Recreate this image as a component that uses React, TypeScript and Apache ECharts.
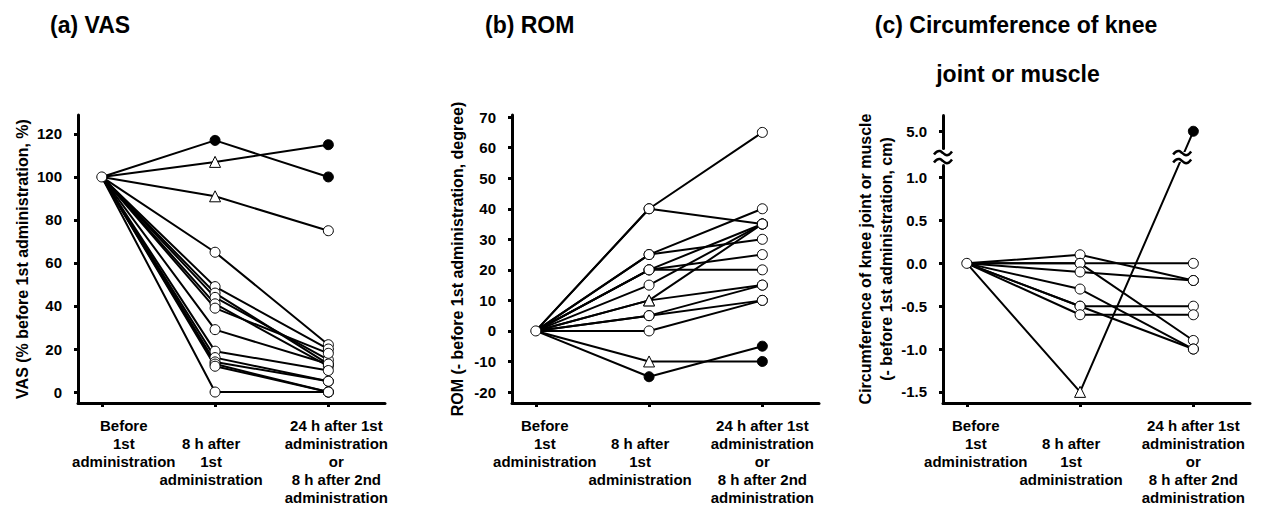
import React, { useEffect, useRef } from 'react';
import * as echarts from 'echarts';

const FONT = '"Liberation Sans", Arial, Helvetica, sans-serif';

// time points (x positions) and their labels
const timePoints = [0, 1, 2];
const timeLabels = [
  'Before\n1st\nadministration',
  '8 h after\n1st\nadministration',
  '24 h after 1st\nadministration\nor\n8 h after 2nd\nadministration',
];
const timeLabelRowStart = [0, 1, 0];

// (a) VAS, % before 1st administration
const vasBefore = 100;
const vas8h = [117, 107, 91, 65, 49, 46, 44, 41, 39, 29, 19, 16, 14, 13, 12, 0];
const vas8hMark = ['f', 't', 't', 'o', 'o', 'o', 'o', 'o', 'o', 'o', 'o', 'o', 'o', 'o', 'o', 'o'];
const vas24h = [100, 115, 75, 22, 20, 13, 15, 12, 18, 13, 10, 5, 5, 0, 0, 0];
const vas24hMark = ['f', 'f', 'o', 'o', 'o', 'o', 'o', 'o', 'o', 'o', 'o', 'o', 'o', 'o', 'o', 'o'];
const vasTicks = [0, 20, 40, 60, 80, 100, 120];

// (b) ROM, degree change from before 1st administration
const romBefore = 0;
const rom8h = [40, 40, 25, 25, 20, 20, 20, 15, 10, 10, 5, 5, 0, -10, -15];
const rom8hMark = ['o', 'o', 'o', 'o', 'o', 'o', 'o', 'o', 't', 't', 'o', 'o', 'o', 't', 'f'];
const rom24h = [65, 35, 40, 30, 25, 20, 35, 35, 35, 15, 15, 10, 10, -10, -5];
const rom24hMark = ['o', 'o', 'o', 'o', 'o', 'o', 'o', 'o', 'o', 'o', 'o', 'o', 'o', 'f', 'f'];
const romTicks = [-20, -10, 0, 10, 20, 30, 40, 50, 60, 70];

// (c) Circumference, cm change from before 1st administration
const circBefore = 0;
const circ8h = [0.1, 0, 0, -0.1, -0.3, -0.5, -0.5, -0.6, -1.5];
const circ8hMark = ['o', 'o', 'o', 'o', 'o', 'o', 'o', 'o', 't'];
const circ24h = [-0.2, 0, -0.9, -0.2, -1.0, -0.5, -1.0, -0.6, 5.0];
const circ24hMark = ['o', 'o', 'o', 'o', 'o', 'o', 'o', 'o', 'f'];
const circTicks = [-1.5, -1.0, -0.5, 0, 0.5, 1.0, 5.0];
const circBreak = [1.14, 4.8];

const labelOffsets = [
  [22, -4, 8],
  [9, -9, 0],
  [9, -9, 0],
];

function markerStyle(m: string) {
  if (m === 'f') return { symbol: 'circle', itemStyle: { color: '#000', borderColor: '#000', borderWidth: 1, opacity: 1 } };
  if (m === 't') return { symbol: 'triangle', symbolSize: 11, itemStyle: { color: '#fff', borderColor: '#000', borderWidth: 1, opacity: 1 } };
  return { symbol: 'circle', itemStyle: { color: '#fff', borderColor: '#000', borderWidth: 1, opacity: 1 } };
}

function panelSeries(idx: number, before: number, v8: number[], m8: string[], v24: number[], m24: string[]) {
  const lines = v8.map((v, i) => ({
    type: 'line',
    xAxisIndex: idx,
    yAxisIndex: idx,
    symbol: 'none',
    silent: true,
    z: 2,
    lineStyle: { color: '#000', width: 2 },
    data: [[timePoints[0], before], [timePoints[1], v], [timePoints[2], v24[i]]],
  }));
  const pts: any[] = [{ value: [timePoints[0], before], ...markerStyle('o') }];
  v8.forEach((v, i) => pts.push({ value: [timePoints[1], v], ...markerStyle(m8[i]) }));
  v24.forEach((v, i) => pts.push({ value: [timePoints[2], v], ...markerStyle(m24[i]) }));
  const scatter = {
    type: 'scatter',
    xAxisIndex: idx,
    yAxisIndex: idx,
    symbolSize: 10,
    z: 3,
    silent: true,
    itemStyle: { opacity: 1 },
    data: pts,
  };
  return [...lines, scatter];
}

const axisLineStyle = { show: true, onZero: false, lineStyle: { color: '#000', width: 3 } };
const tickLabelStyle = { color: '#000', fontFamily: FONT, fontWeight: 'bold' as const, fontSize: 15 };

function xAxisFor(idx: number) {
  return {
    type: 'value',
    gridIndex: idx,
    min: -0.21,
    max: 2.5,
    axisLine: axisLineStyle,
    axisTick: { show: true, customValues: timePoints, length: 4, lineStyle: { color: '#000', width: 3 } },
    axisLabel: { show: false },
    splitLine: { show: false },
  };
}

function yAxisFor(idx: number, min: number, max: number, ticks: number[], name: string, fmt: (v: number) => string, nameGap: number, extra: any = {}) {
  return {
    type: 'value',
    gridIndex: idx,
    min,
    max,
    name,
    nameLocation: 'middle',
    nameGap,
    nameTextStyle: { color: '#000', fontFamily: FONT, fontWeight: 'bold', fontSize: 16, lineHeight: 21 },
    axisLine: axisLineStyle,
    axisTick: { show: true, customValues: ticks, length: 4, lineStyle: { color: '#000', width: 3 } },
    axisLabel: { ...tickLabelStyle, customValues: ticks, margin: 16, formatter: (v: number) => fmt(v) },
    splitLine: { show: false },
    ...extra,
  };
}

const titleStyle = { fontFamily: FONT, fontWeight: 'bold', fontSize: 23, color: '#000' };

export default function App() {
  const ref = useRef<HTMLDivElement>(null);
  useEffect(() => {
    if (!ref.current) return;
    document.body.style.margin = '0';
    const chart = echarts.init(ref.current, undefined, { renderer: 'svg' });
    const grids = [
      { left: 78, top: 115, width: 307, height: 288 },
      { left: 512, top: 115, width: 307, height: 288 },
      { left: 943, top: 115, width: 307, height: 288 },
    ];
    const option: any = {
      animation: false,
      backgroundColor: '#fff',
      title: [
        { text: '(a) VAS', left: 45, top: 8, textStyle: titleStyle },
        { text: '(b) ROM', left: 480, top: 8, textStyle: titleStyle },
        { text: '(c) Circumference of knee', left: 1011, top: 8, textAlign: 'center', textStyle: titleStyle },
        { text: 'joint or muscle', left: 1013, top: 57, textAlign: 'center', textStyle: titleStyle },
      ],
      grid: grids,
      xAxis: [xAxisFor(0), xAxisFor(1), xAxisFor(2)],
      yAxis: [
        yAxisFor(0, -5.1, 128.8, vasTicks, 'VAS (% before 1st administration, %)', (v) => String(v), 44),
        yAxisFor(1, -23.6, 70.7, romTicks, 'ROM (- before 1st administration, degree)', (v) => String(v), 44),
        yAxisFor(
          2,
          -1.63,
          5.19,
          circTicks,
          'Circumference of knee joint or muscle\n(- before 1st administration, cm)',
          (v) => v.toFixed(1),
          44,
          {
            breaks: [{ start: circBreak[0], end: circBreak[1], gap: '6%' }],
            breakArea: { show: false },
          }
        ),
      ],
      series: [
        ...panelSeries(0, vasBefore, vas8h, vas8hMark, vas24h, vas24hMark),
        ...panelSeries(1, romBefore, rom8h, rom8hMark, rom24h, rom24hMark),
        ...panelSeries(2, circBefore, circ8h, circ8hMark, circ24h, circ24hMark),
      ],
    };
    chart.setOption(option);

    const graphics: any[] = [];
    for (let g = 0; g < 3; g++) {
      timePoints.forEach((t, i) => {
        const px = chart.convertToPixel({ xAxisIndex: g } as any, t) as unknown as number;
        graphics.push({
          type: 'text',
          x: px + labelOffsets[g][i],
          y: 416 + timeLabelRowStart[i] * 18,
          silent: true,
          style: {
            text: timeLabels[i],
            align: 'center',
            verticalAlign: 'top',
            fontFamily: FONT,
            fontWeight: 'bold',
            fontSize: 15,
            lineHeight: 18,
            fill: '#000',
          },
        });
      });
    }
    // break marks on the (c) axis and on the line crossing it
    const axisX = grids[2].left;
    const yb0 = chart.convertToPixel({ yAxisIndex: 2 } as any, circBreak[0]) as unknown as number;
    const yb1 = chart.convertToPixel({ yAxisIndex: 2 } as any, circBreak[1]) as unknown as number;
    let breakY = (yb0 + yb1) / 2;
    if (!isFinite(breakY)) breakY = 156;
    const p8 = chart.convertToPixel({ xAxisIndex: 2, yAxisIndex: 2 } as any, [timePoints[1], circ8h[8]]) as unknown as number[];
    const p24 = chart.convertToPixel({ xAxisIndex: 2, yAxisIndex: 2 } as any, [timePoints[2], circ24h[8]]) as unknown as number[];
    const tB = (p8[1] - breakY) / (p8[1] - p24[1]);
    const lineBreakX = p8[0] + tB * (p24[0] - p8[0]);
    [axisX, lineBreakX].forEach((bx) => {
      graphics.push({ type: 'rect', z: 100, silent: true, shape: { x: bx - 7, y: breakY - 5, width: 14, height: 10 }, style: { fill: '#fff' } });
      [-4, 4].forEach((dy) => {
        const cy = breakY + dy;
        graphics.push({
          type: 'polyline',
          z: 101,
          silent: true,
          shape: {
            points: [
              [bx - 9, cy + 1.5],
              [bx - 6, cy - 1.5],
              [bx - 3, cy - 2],
              [bx, cy],
              [bx + 3, cy + 2],
              [bx + 6, cy + 1.5],
              [bx + 9, cy - 1.5],
            ],
            smooth: 0.4,
          },
          style: { stroke: '#000', lineWidth: 2.5, fill: null },
        });
      });
    });
    chart.setOption({ graphic: { elements: graphics } });

    return () => chart.dispose();
  }, []);
  return <div ref={ref} style={{ width: 1266, height: 508 }} />;
}
